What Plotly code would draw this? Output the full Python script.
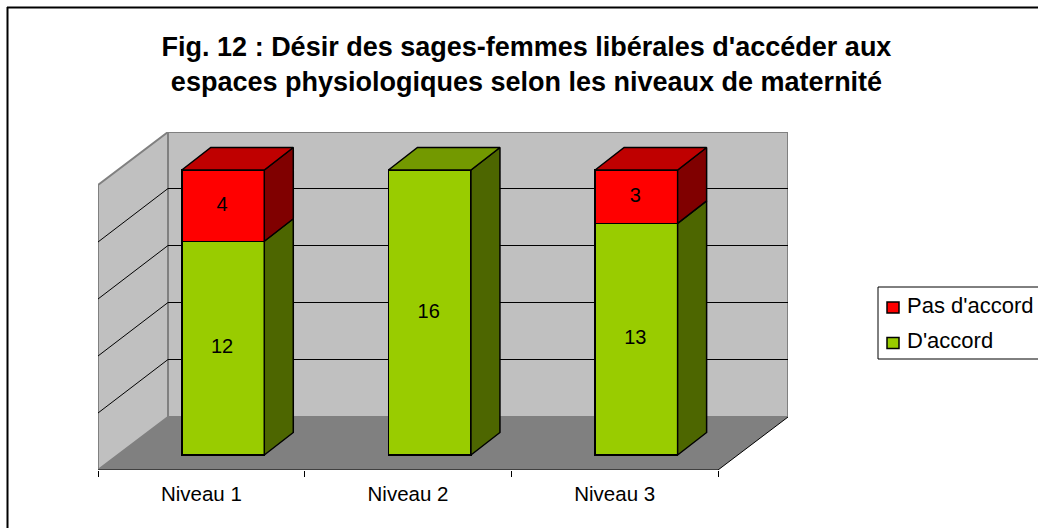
import plotly.graph_objects as go

categories = ["Niveau 1", "Niveau 2", "Niveau 3"]
series_names = ["D'accord", "Pas d'accord"]
d_accord = [12, 16, 13]
pas_d_accord = [4, 0, 3]
percent_ticks = [0, 20, 40, 60, 80, 100]
title_text = "Fig. 12 : Désir des sages-femmes libérales d'accéder aux<br>espaces physiologiques selon les niveaux de maternité"

FONT = "Liberation Sans, Arial, sans-serif"
W, H = 1038, 528
# plot area in pixels: data frame of the pseudo-3D box
PX_L, PX_R, PX_T, PX_B = 98, 788, 132, 470
PX_PER_X = 620 / 3        # one category
PX_PER_Y = 285 / 100      # one percent
BAR_Y0_PX = 455
to_x = lambda px: (px - PX_L) / PX_PER_X
dxv = lambda px: px / PX_PER_X
dyv = lambda px: px / PX_PER_Y
to_y = lambda py: (BAR_Y0_PX - py) / PX_PER_Y

X_MAX = to_x(PX_R)
Y_MIN, Y_MAX = to_y(PX_B), to_y(PX_T)

# floor / wall depth and bar depth (in axis units)
WALL_DX, WALL_DY = dxv(70), dyv(53)
FRONT_Y = Y_MIN
BACK_Y0 = to_y(417)
GRID_Y0 = to_y(416.5)
BAR_DX, BAR_DY = dxv(29), dyv(22.5)
BAR_W = dxv(82.5)
BAR_SHIFT = dxv(21.7)

green, green_side, green_top = "#99CC00", "#4D6600", "#739900"
red, red_side, red_top = "#FF0000", "#800000", "#BF0000"
wall, floor_c, wall_line = "#C0C0C0", "#808080", "#808080"

centers = [i + 0.5 + BAR_SHIFT for i in range(len(categories))]
totals = [a + b for a, b in zip(d_accord, pas_d_accord)]
pct_g = [100 * a / t for a, t in zip(d_accord, totals)]


def poly_path(pts):
    return "M " + " L ".join(f"{x},{y}" for x, y in pts) + " Z"


lx = lambda px: (px - PX_L) / (PX_R - PX_L)
ly = lambda py: (PX_B - py) / (PX_B - PX_T)

shapes = []
# back wall
shapes.append(dict(type="rect", xref="x", yref="y", x0=WALL_DX, x1=X_MAX, y0=BACK_Y0, y1=Y_MAX,
                   fillcolor=wall, line=dict(color=wall_line, width=2), layer="below"))
# left wall
shapes.append(dict(type="path", xref="x", yref="y",
                   path=poly_path([(0, FRONT_Y), (0, FRONT_Y + dyv(285)), (WALL_DX, Y_MAX), (WALL_DX, BACK_Y0)]),
                   fillcolor=wall, line=dict(color=wall_line, width=2), layer="below"))
# floor
shapes.append(dict(type="path", xref="x", yref="y",
                   path=poly_path([(0, FRONT_Y), (3, FRONT_Y), (X_MAX, BACK_Y0), (WALL_DX, BACK_Y0)]),
                   fillcolor=floor_c, line=dict(width=0), layer="below"))
# gridlines on walls
for p in percent_ticks[1:-1]:
    yb = GRID_Y0 + p
    shapes.append(dict(type="line", xref="x", yref="y", x0=WALL_DX, x1=X_MAX, y0=yb, y1=yb,
                       line=dict(color="#000000", width=1), layer="below"))
    shapes.append(dict(type="line", xref="x", yref="y", x0=0, x1=WALL_DX, y0=FRONT_Y + p, y1=yb,
                       line=dict(color="#000000", width=1), layer="below"))
# floor front and right edge
shapes.append(dict(type="line", xref="x", yref="y", x0=0, x1=3, y0=FRONT_Y, y1=FRONT_Y,
                   line=dict(color="#000000", width=1.2), layer="above"))
shapes.append(dict(type="line", xref="x", yref="y", x0=3, x1=X_MAX, y0=FRONT_Y, y1=BACK_Y0,
                   line=dict(color="#000000", width=1), layer="below"))
# outer frame: only the top and left edges are visible in the reference
shapes.append(dict(type="line", xref="paper", yref="paper", x0=lx(7), x1=lx(1040), y0=ly(7.5), y1=ly(7.5),
                   line=dict(color="#000000", width=2), layer="below"))
shapes.append(dict(type="line", xref="paper", yref="paper", x0=lx(7.5), x1=lx(7.5), y0=ly(530), y1=ly(7),
                   line=dict(color="#000000", width=2), layer="below"))

fig = go.Figure()
outline = dict(color="#000000", width=1.5)
fig.add_bar(name=series_names[0], x=centers, y=d_accord, width=BAR_W, marker=dict(color=green, line=outline),
            showlegend=False)
fig.add_bar(name=series_names[1], x=centers, y=pas_d_accord, width=BAR_W, marker=dict(color=red, line=outline),
            showlegend=False)


def face(pts, color):
    xs = [p[0] for p in pts] + [pts[0][0]]
    ys = [p[1] for p in pts] + [pts[0][1]]
    fig.add_scatter(x=xs, y=ys, mode="lines", fill="toself", fillcolor=color,
                    line=dict(color="#000000", width=1.5), showlegend=False, hoverinfo="skip")


for c, g, v in zip(centers, pct_g, pas_d_accord):
    r = c + BAR_W / 2
    l = c - BAR_W / 2
    face([(r, 0), (r + BAR_DX, BAR_DY), (r + BAR_DX, g + BAR_DY), (r, g)], green_side)
    if v:
        face([(r, g), (r + BAR_DX, g + BAR_DY), (r + BAR_DX, 100 + BAR_DY), (r, 100)], red_side)
    top = red_top if v else green_top
    face([(l, 100), (r, 100), (r + BAR_DX, 100 + BAR_DY), (l + BAR_DX, 100 + BAR_DY)], top)

# value labels at the middle of each segment
lab_x, lab_y, lab_t = [], [], []
for c, g, a, b in zip(centers, pct_g, d_accord, pas_d_accord):
    lab_x.append(c - dxv(1)); lab_y.append(g / 2); lab_t.append(str(a))
    if b:
        lab_x.append(c - dxv(1)); lab_y.append((g + 100) / 2); lab_t.append(str(b))
fig.add_scatter(x=lab_x, y=lab_y, text=lab_t, mode="text", textposition="middle center",
                textfont=dict(family=FONT, size=20, color="#000000"), showlegend=False, hoverinfo="skip")

# legend, drawn to the reference's pixel spacing; its box runs off the right edge
LEG_L, LEG_T, LEG_B = 878, 287, 359
shapes.append(dict(type="rect", xref="paper", yref="paper", x0=lx(LEG_L), x1=lx(1045), y0=ly(LEG_B), y1=ly(LEG_T),
                   line=dict(color="#000000", width=1), fillcolor="#FFFFFF", layer="above"))
annotations = []
for name, color, py, ty in [(series_names[1], red, 307.5, 305), (series_names[0], green, 343, 340)]:
    shapes.append(dict(type="rect", xref="paper", yref="paper", x0=lx(887), x1=lx(899), y0=ly(py + 5.5), y1=ly(py - 5.5),
                       line=dict(color="#000000", width=1.5), fillcolor=color, layer="above"))
    annotations.append(dict(xref="paper", yref="paper", x=lx(905), y=ly(ty), text=name, showarrow=False,
                            xanchor="left", yanchor="middle", font=dict(family=FONT, size=22, color="#000000")))

fig.update_layout(
    width=W, height=H, autosize=False,
    margin=dict(l=PX_L, r=W - PX_R, t=PX_T, b=H - PX_B, pad=0),
    paper_bgcolor="#FFFFFF", plot_bgcolor="rgba(0,0,0,0)",
    barmode="stack", barnorm="percent", showlegend=False,
    title=dict(text=title_text, x=526.5 / W, xanchor="center", y=1 - 56 / H, yanchor="middle",
               font=dict(family=FONT, size=27, color="#000000", weight="bold")),
    xaxis=dict(range=[0, X_MAX], showgrid=False, zeroline=False, showline=False,
               tickmode="array", tickvals=[i + 0.5 for i in range(3)], ticktext=categories, ticklen=0,
               ticklabelstandoff=9,
               tickfont=dict(family=FONT, size=20.5, color="#000000"),
               minor=dict(tickmode="array", tickvals=[0, 1, 2, 3], ticks="outside", ticklen=6, tickcolor="#000000",
                          tickwidth=1)),
    yaxis=dict(range=[Y_MIN, Y_MAX], showgrid=False, zeroline=False, showline=False, showticklabels=False, ticks=""),
    shapes=shapes, annotations=annotations,
)
fig.write_html("out.html", post_script="document.body.style.margin='0';", config=dict(displayModeBar=False))
